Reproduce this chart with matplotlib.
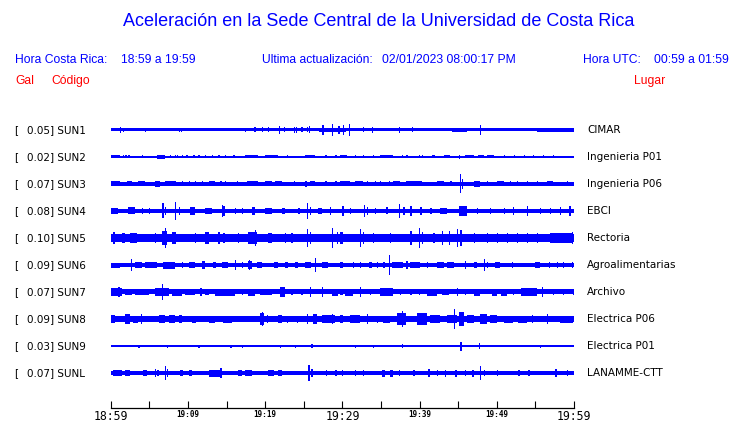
import matplotlib
matplotlib.use('Agg')
import matplotlib.pyplot as plt
from matplotlib.transforms import blended_transform_factory

W, H = 740, 423
BLUE = '#0000ff'
RED = '#ff0000'

TITLE = 'Aceleración en la Sede Central de la Universidad de Costa Rica'
HORA_CR = '18:59 a 19:59'
HORA_UTC = '00:59 a 01:59'
ACTUALIZACION = '02/01/2023 08:00:17 PM'

STATIONS = ['SUN1', 'SUN2', 'SUN3', 'SUN4', 'SUN5', 'SUN6', 'SUN7', 'SUN8', 'SUN9', 'SUNL']
GAL = [0.05, 0.02, 0.07, 0.08, 0.10, 0.09, 0.07, 0.09, 0.03, 0.07]
PLACES = ['CIMAR', 'Ingenieria P01', 'Ingenieria P06', 'EBCI', 'Rectoria',
          'Agroalimentarias', 'Archivo', 'Electrica P06', 'Electrica P01', 'LANAMME-CTT']
# half width of the background noise band of each trace
NOISE = [1.5, 0.7, 1.7, 2.1, 4.3, 1.8, 2.5, 2.9, 1.0, 1.8]

# bursts: (start minute, end minute, half amplitude)
# start == end means a single spike
SUN1_EV = [(1.2, 1.2, 3.2), (1.55, 1.55, 2.3), (4.45, 4.45, 2.3), (8.85, 8.85, 2.3), (9.1, 9.1, 2.3),
           (17.4, 17.4, 2.3), (18.6, 18.6, 2.5), (19.6, 19.6, 2.5), (20.4, 20.4, 2.5), (21.8, 21.8, 4.0),
           (22.4, 22.4, 2.5), (23.7, 23.7, 3.0), (24.0, 24.0, 3.0), (24.7, 24.7, 2.5), (25.4, 25.4, 2.5),
           (25.7, 25.7, 3.5), (27.0, 30.5, 2.3), (27.4, 27.4, 5.0), (28.6, 28.6, 6.0), (29.5, 29.5, 4.0),
           (30.1, 30.1, 5.0), (30.8, 30.8, 6.0), (32.7, 32.7, 2.5), (33.8, 33.8, 3.0), (37.3, 37.3, 3.0),
           (39.0, 39.0, 2.5), (44.2, 46.2, 2.3), (47.8, 47.8, 5.0), (55.2, 60.0, 2.0)]
SUN2_EV = [(0.1, 1.2, 1.5), (1.6, 1.6, 1.5), (1.9, 1.9, 1.5), (2.3, 2.3, 1.5), (4.0, 4.0, 1.5),
           (6.0, 7.0, 1.6), (7.7, 7.7, 1.5), (8.3, 8.3, 1.5), (8.55, 8.55, 1.5), (9.2, 9.2, 1.5),
           (9.8, 9.8, 1.5), (10.7, 10.7, 1.5), (11.35, 11.35, 1.5), (12.2, 12.2, 1.5), (13.1, 13.1, 1.5),
           (13.95, 13.95, 1.5), (14.8, 14.8, 1.5), (15.9, 15.9, 1.5), (17.4, 19.1, 1.5), (20.0, 21.7, 1.5),
           (22.8, 22.8, 1.5), (25.2, 26.5, 1.5), (27.8, 27.8, 1.5), (29.1, 29.1, 1.5), (29.7, 30.6, 1.5),
           (31.6, 31.6, 1.5), (32.7, 32.7, 1.5), (34.0, 34.0, 1.5), (34.9, 36.6, 1.5), (37.7, 37.7, 1.5),
           (38.3, 38.3, 1.5), (39.9, 39.9, 1.5), (40.3, 40.3, 1.5), (41.6, 42.0, 1.5), (43.1, 43.9, 1.5),
           (45.1, 45.1, 2.0), (45.9, 47.0, 1.5), (47.6, 48.3, 1.5), (48.7, 49.6, 1.5), (50.9, 50.9, 1.5),
           (52.2, 52.2, 1.5), (53.5, 53.5, 1.5), (54.7, 54.7, 1.5), (56.0, 56.0, 1.5), (57.3, 57.3, 1.5)]
SUN3_EV = [(0.1, 1.2, 2.5), (2.1, 2.7, 2.5), (3.6, 4.45, 2.5), (5.7, 6.4, 3.0), (7.0, 8.5, 2.5),
           (9.2, 9.2, 2.5), (10.1, 10.1, 2.5), (10.9, 10.9, 2.5), (11.8, 11.8, 2.5), (12.7, 13.5, 2.5),
           (14.2, 14.2, 2.5), (14.8, 14.8, 2.5), (16.3, 16.3, 2.5), (17.6, 19.1, 2.5), (20.0, 20.9, 2.5),
           (21.3, 22.2, 2.5), (23.7, 23.7, 2.5), (25.2, 25.2, 3.0), (25.8, 26.5, 2.5), (27.8, 27.8, 2.5),
           (29.1, 29.1, 2.5), (29.7, 31.0, 2.5), (31.6, 32.7, 2.5), (33.2, 33.2, 2.5), (34.2, 34.2, 2.5),
           (34.9, 34.9, 2.5), (36.0, 36.0, 2.5), (36.6, 37.5, 2.5), (38.2, 40.3, 2.5), (42.2, 43.1, 2.5),
           (44.0, 44.0, 2.5), (45.2, 45.2, 9.5), (45.5, 45.5, 5.0), (47.0, 47.8, 3.0), (48.7, 48.7, 2.5),
           (50.0, 50.9, 2.5), (51.7, 51.7, 2.5), (52.6, 52.6, 2.5), (53.9, 53.9, 2.5), (55.2, 55.2, 2.5),
           (56.5, 57.3, 2.5), (59.1, 59.1, 2.5)]
SUN4_EV = [(0.0, 1.0, 3.0), (2.3, 3.2, 3.5), (4.0, 4.0, 3.0), (4.9, 4.9, 3.0), (6.7, 6.7, 7.5),
           (7.0, 7.0, 4.0), (8.3, 8.3, 9.0), (8.8, 8.8, 4.0), (10.3, 10.9, 4.0), (12.2, 13.1, 3.0),
           (14.4, 14.4, 6.0), (14.6, 14.6, 5.0), (16.1, 16.1, 3.0), (17.0, 17.0, 3.0), (18.3, 18.7, 4.0),
           (20.0, 20.9, 3.0), (22.2, 22.6, 3.0), (24.3, 24.3, 3.0), (25.4, 25.4, 8.0), (25.8, 25.8, 4.0),
           (26.9, 27.3, 3.0), (28.4, 28.4, 4.0), (30.0, 30.0, 5.0), (31.0, 31.0, 3.0), (32.8, 32.8, 6.0),
           (33.2, 33.2, 4.0), (34.2, 34.2, 3.0), (35.7, 35.7, 3.5), (37.3, 37.3, 7.0), (37.9, 37.9, 4.0),
           (38.8, 38.8, 5.0), (40.1, 40.1, 4.0), (41.4, 41.4, 3.0), (42.7, 43.5, 3.0), (45.1, 46.1, 5.0),
           (47.4, 47.4, 3.0), (49.1, 49.1, 3.0), (50.9, 50.9, 3.0), (52.1, 52.1, 4.0), (53.9, 53.9, 5.0),
           (55.6, 55.6, 3.0), (56.9, 56.9, 3.0), (58.2, 58.2, 4.0), (59.4, 59.4, 5.0)]
SUN5_EV = [(0.35, 0.35, 6.0), (1.4, 1.9, 5.0), (2.5, 3.4, 5.0), (5.7, 5.7, 5.0), (6.6, 7.3, 7.0),
           (7.0, 7.0, 10.0), (7.9, 8.5, 6.0), (10.9, 10.9, 5.0), (12.2, 12.7, 6.0), (13.95, 13.95, 6.0),
           (14.6, 14.6, 5.0), (16.5, 16.5, 5.0), (17.8, 18.9, 6.0), (18.7, 18.7, 8.0), (20.4, 20.9, 5.0),
           (22.6, 22.6, 5.0), (23.4, 23.4, 5.0), (25.4, 25.4, 9.0), (25.8, 25.8, 6.0), (28.6, 28.6, 10.0),
           (29.3, 29.3, 6.0), (29.7, 30.1, 6.0), (32.3, 32.3, 9.0), (32.7, 32.7, 6.0), (34.0, 34.0, 5.0),
           (36.2, 36.2, 5.0), (38.8, 38.8, 7.0), (39.9, 39.9, 10.0), (40.3, 40.3, 6.0), (41.8, 41.8, 5.0),
           (42.9, 42.9, 7.0), (43.8, 43.8, 7.0), (44.8, 44.8, 9.0), (45.3, 45.3, 8.0), (47.0, 47.0, 5.0),
           (48.7, 48.7, 5.0), (50.0, 50.0, 5.0), (51.3, 51.3, 5.0), (52.6, 52.6, 5.0), (53.9, 53.9, 5.0),
           (55.2, 55.2, 5.0), (56.9, 59.9, 5.0), (59.7, 59.7, 6.0)]
SUN6_EV = [(0.0, 1.2, 2.5), (2.6, 2.6, 6.0), (3.2, 4.0, 3.0), (4.45, 6.0, 2.7), (6.8, 8.3, 3.5),
           (9.2, 9.2, 3.0), (10.1, 10.9, 3.0), (11.8, 12.2, 4.0), (13.3, 13.7, 3.0), (14.4, 15.2, 3.0),
           (16.1, 16.1, 5.0), (17.0, 17.0, 3.0), (17.8, 18.3, 4.0), (17.9, 17.9, 5.0), (18.9, 19.6, 3.0),
           (21.1, 21.7, 3.0), (22.6, 23.0, 3.0), (23.9, 24.3, 3.0), (25.2, 26.0, 3.0), (26.4, 26.4, 7.0),
           (27.3, 28.2, 3.0), (29.9, 29.9, 3.0), (29.7, 30.1, 3.0), (31.4, 31.4, 3.0), (32.3, 32.3, 3.0),
           (33.4, 33.8, 3.0), (34.5, 34.5, 3.0), (35.3, 35.3, 3.0), (36.0, 36.0, 9.7), (36.4, 37.9, 3.0),
           (38.3, 38.3, 4.0), (38.8, 40.1, 3.0), (40.9, 40.9, 3.0), (42.2, 43.1, 3.0), (43.5, 44.4, 3.0),
           (45.9, 45.9, 4.0), (47.0, 47.4, 3.0), (48.3, 48.3, 6.0), (48.7, 48.7, 3.0), (49.8, 50.4, 3.0),
           (52.0, 52.0, 3.0), (55.0, 55.6, 2.7), (56.7, 56.7, 3.0), (57.8, 57.8, 3.0), (58.6, 58.6, 3.0),
           (59.7, 59.7, 3.0)]
SUN7_EV = [(0.1, 1.4, 4.0), (1.0, 1.0, 5.0), (1.9, 2.7, 3.0), (3.2, 4.9, 3.0), (5.7, 7.5, 4.0),
           (6.6, 6.6, 8.0), (7.9, 9.2, 3.5), (9.6, 10.9, 3.0), (11.6, 11.6, 4.0), (12.2, 12.7, 3.0),
           (13.5, 16.1, 3.5), (17.0, 17.0, 3.0), (17.8, 18.7, 3.5), (19.3, 20.9, 3.0), (21.9, 22.6, 5.0),
           (23.4, 23.4, 3.0), (24.7, 24.7, 3.0), (25.8, 25.8, 5.0), (27.3, 27.3, 5.0), (28.6, 29.5, 3.5),
           (29.7, 30.1, 3.0), (30.3, 31.4, 3.5), (32.3, 32.3, 5.0), (33.6, 33.6, 3.0), (34.9, 36.6, 4.0),
           (37.5, 37.5, 3.0), (38.8, 38.8, 3.0), (39.9, 39.9, 3.0), (40.9, 42.2, 3.5), (42.9, 43.8, 3.0),
           (44.8, 44.8, 4.0), (45.9, 45.9, 3.0), (47.0, 47.8, 3.5), (49.4, 50.0, 3.5), (50.6, 51.3, 3.5),
           (52.1, 52.1, 3.0), (53.2, 55.2, 4.0), (55.8, 55.8, 5.0), (57.3, 57.3, 3.0), (58.6, 58.6, 3.0),
           (59.9, 59.9, 3.0)]
SUN8_EV = [(0.0, 0.6, 4.0), (1.9, 2.5, 5.0), (2.9, 3.6, 3.5), (3.9, 3.9, 5.0), (6.2, 7.0, 4.0),
           (7.5, 8.3, 4.0), (8.8, 9.2, 4.0), (10.5, 11.1, 3.5), (12.7, 13.5, 3.5), (14.6, 15.7, 3.5),
           (19.3, 19.8, 6.0), (19.6, 19.6, 7.0), (20.2, 20.2, 4.0), (21.7, 22.2, 4.0), (22.8, 22.8, 3.5),
           (24.1, 24.1, 3.5), (25.4, 25.4, 5.0), (26.2, 26.7, 5.0), (27.3, 29.1, 4.0), (28.6, 28.6, 5.0),
           (29.7, 30.1, 4.0), (31.0, 32.3, 4.0), (33.2, 33.2, 5.0), (34.5, 34.5, 3.5), (35.3, 36.2, 3.5),
           (37.1, 38.3, 6.0), (37.7, 37.7, 8.0), (39.7, 40.9, 6.0), (41.4, 42.7, 4.0), (43.5, 44.8, 4.0),
           (44.4, 44.4, 10.0), (45.1, 45.7, 7.0), (46.1, 47.0, 4.0), (47.8, 48.7, 5.0), (49.1, 50.0, 4.0),
           (50.9, 52.1, 3.5), (52.8, 53.9, 3.5), (54.5, 54.5, 4.0), (56.5, 56.5, 5.0), (58.2, 59.9, 3.5)]
SUN9_EV = [(0.0, 1.2, 1.4), (3.6, 3.6, 1.5), (7.3, 7.3, 1.5), (11.35, 11.35, 1.5), (12.2, 13.1, 1.4),
           (15.5, 15.5, 1.5), (17.0, 17.0, 1.5), (21.9, 21.9, 1.5), (23.9, 23.9, 1.5), (26.0, 26.0, 2.0),
           (31.6, 31.6, 1.5), (34.0, 34.0, 1.5), (37.7, 37.7, 2.0), (45.3, 45.3, 4.5), (47.7, 47.7, 3.0),
           (55.6, 55.6, 1.5)]
SUNL_EV = [(0.35, 1.4, 3.0), (1.9, 2.5, 2.7), (4.2, 4.7, 3.0), (5.7, 5.7, 4.0), (6.0, 6.2, 3.0),
           (7.0, 7.0, 7.0), (7.25, 7.25, 4.0), (9.0, 9.4, 2.7), (10.1, 10.5, 2.7), (12.7, 14.2, 3.5),
           (14.2, 14.2, 5.0), (16.5, 17.0, 2.7), (17.4, 18.3, 3.0), (20.4, 21.1, 3.0), (21.7, 22.2, 3.0),
           (25.6, 25.6, 8.0), (26.0, 26.0, 4.0), (27.85, 27.85, 3.0), (29.1, 29.1, 3.0), (29.9, 30.1, 2.7),
           (31.6, 31.6, 2.7), (32.7, 32.7, 3.0), (35.1, 35.5, 3.5), (36.2, 36.6, 3.5), (37.3, 37.3, 3.0),
           (39.2, 39.2, 3.0), (41.1, 41.4, 4.0), (42.2, 42.2, 3.0), (43.3, 43.3, 3.5), (44.6, 44.8, 3.5),
           (45.9, 45.9, 3.0), (46.8, 47.0, 3.5), (47.8, 47.8, 7.0), (48.3, 48.3, 3.0), (50.0, 50.0, 3.0),
           (52.8, 52.8, 3.0), (54.1, 54.1, 3.0), (57.6, 57.6, 4.0), (59.1, 59.1, 3.0)]
EVENTS = [SUN1_EV, SUN2_EV, SUN3_EV, SUN4_EV, SUN5_EV, SUN6_EV, SUN7_EV, SUN8_EV, SUN9_EV, SUNL_EV]

TICK_MIN = list(range(0, 61, 5))
TICK_LABELS = ['18:59', '', '19:09', '', '19:19', '', '19:29', '', '19:39', '', '19:49', '', '19:59']
BIG_LABELS = ['18:59', '19:29', '19:59']


def fx(x):
    return x / W


def fy(y):
    return 1 - y / H


fig = plt.figure(figsize=(W / 100, H / 100), dpi=100)
fig.patch.set_facecolor('white')

# trace area, the bottom spine is the time axis
ax = fig.add_axes([fx(110.7), fy(408), (574 - 110.7) / W, (408 - 115) / H])
SPACING = 27
SPIKE_W = 0.16

for i, (base, events) in enumerate(zip(NOISE, EVENTS)):
    c = -SPACING * i
    ax.fill_between([0, 60], c - base, c + base, color=BLUE, lw=0, antialiased=False)
    xs = [t0 for t0, t1, a in events]
    ws = [max(t1 - t0, SPIKE_W) for t0, t1, a in events]
    hs = [2 * a for t0, t1, a in events]
    bs = [c - a for t0, t1, a in events]
    ax.bar(xs, hs, width=ws, bottom=bs, align='edge', color=BLUE, lw=0, antialiased=False)

ax.set_xlim(0, 60)
ax.set_ylim(-278, 15)
for side in ['left', 'right', 'top']:
    ax.spines[side].set_visible(False)
ax.spines['bottom'].set_linewidth(0.9)
ax.set_yticks([])
ax.set_xticks(TICK_MIN, TICK_LABELS)
ax.tick_params(axis='x', direction='in', length=5.4, width=0.8, pad=1.5)
for lab in ax.get_xticklabels():
    lab.set_fontfamily('DejaVu Sans Mono')
    if lab.get_text() in BIG_LABELS:
        lab.set_fontsize(8.3)
    else:
        lab.set_fontsize(5.5)
        lab.set_fontweight('bold')

# station labels on both sides
tr = blended_transform_factory(fig.transFigure, ax.transData)
for i, (st, g, place) in enumerate(zip(STATIONS, GAL, PLACES)):
    c = -SPACING * i
    ax.text(fx(14), c, '[', transform=tr, va='center', ha='left', fontsize=7.5, clip_on=False)
    ax.text(fx(27), c, f'{g:.2f}] {st}', transform=tr, va='center', ha='left', fontsize=7.5, clip_on=False)
    ax.text(fx(587), c, place, transform=tr, va='center', ha='left', fontsize=7.5, clip_on=False)

# header
hf = 'Liberation Sans'
fig.text(fx(378.5), fy(22), TITLE, ha='center', va='center', color=BLUE, fontsize=13, family=hf)
fig.text(fx(15), fy(60), 'Hora Costa Rica:', va='center', color=BLUE, fontsize=8.7, family=hf)
fig.text(fx(121), fy(60), HORA_CR, va='center', color=BLUE, fontsize=8.7, family=hf)
fig.text(fx(262), fy(60), 'Ultima actualización:', va='center', color=BLUE, fontsize=8.7, family=hf)
fig.text(fx(382), fy(60), ACTUALIZACION, va='center', color=BLUE, fontsize=8.7, family=hf)
fig.text(fx(583), fy(60), 'Hora UTC:', va='center', color=BLUE, fontsize=8.7, family=hf)
fig.text(fx(654), fy(60), HORA_UTC, va='center', color=BLUE, fontsize=8.7, family=hf)
fig.text(fx(15), fy(81), 'Gal', va='center', color=RED, fontsize=8.7, family=hf)
fig.text(fx(51), fy(81), 'Código', va='center', color=RED, fontsize=8.7, family=hf)
fig.text(fx(634), fy(81), 'Lugar', va='center', color=RED, fontsize=8.7, family=hf)

fig.savefig('out.png', dpi=100, facecolor='white')
